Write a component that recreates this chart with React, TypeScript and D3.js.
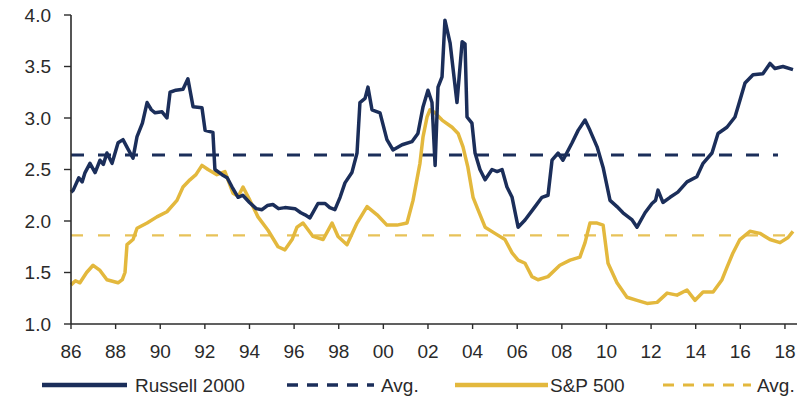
import React from "react";
import * as d3 from "d3";

const russell: [number, number][] = [
  [1986.0, 2.28], [1986.1, 2.3], [1986.35, 2.42], [1986.5, 2.38], [1986.63, 2.47], [1986.85, 2.56],
  [1987.08, 2.47], [1987.3, 2.59], [1987.45, 2.55], [1987.61, 2.66], [1987.84, 2.56], [1988.11, 2.76],
  [1988.33, 2.79], [1988.55, 2.7], [1988.78, 2.61], [1988.96, 2.82], [1989.2, 2.95], [1989.41, 3.15],
  [1989.6, 3.08], [1989.77, 3.05], [1990.08, 3.06], [1990.3, 3.0], [1990.44, 3.25], [1990.7, 3.27],
  [1991.02, 3.28], [1991.24, 3.38], [1991.47, 3.11], [1991.87, 3.1], [1992.01, 2.88], [1992.36, 2.86],
  [1992.45, 2.5], [1992.77, 2.45], [1993.0, 2.42], [1993.22, 2.33], [1993.49, 2.23], [1993.7, 2.25],
  [1994.0, 2.18], [1994.3, 2.12], [1994.56, 2.11], [1994.8, 2.15], [1995.05, 2.16], [1995.3, 2.12],
  [1995.59, 2.13], [1996.04, 2.12], [1996.3, 2.08], [1996.49, 2.06], [1996.71, 2.03], [1997.07, 2.17],
  [1997.39, 2.17], [1997.6, 2.13], [1997.83, 2.11], [1998.06, 2.23], [1998.28, 2.37], [1998.59, 2.47],
  [1998.82, 2.66], [1998.95, 3.15], [1999.18, 3.19], [1999.31, 3.3], [1999.49, 3.08], [1999.85, 3.05],
  [2000.16, 2.79], [2000.43, 2.69], [2000.84, 2.74], [2001.28, 2.77], [2001.55, 2.85], [2001.78, 3.11],
  [2002.0, 3.27], [2002.18, 3.15], [2002.32, 2.54], [2002.45, 3.3], [2002.63, 3.4], [2002.76, 3.95],
  [2002.99, 3.73], [2003.3, 3.15], [2003.53, 3.74], [2003.66, 3.72], [2003.75, 3.01], [2003.97, 2.95],
  [2004.11, 2.66], [2004.33, 2.5], [2004.56, 2.4], [2004.87, 2.5], [2005.1, 2.48], [2005.32, 2.5],
  [2005.54, 2.33], [2005.77, 2.23], [2006.04, 1.94], [2006.35, 2.01], [2006.8, 2.14], [2007.11, 2.23],
  [2007.38, 2.25], [2007.56, 2.59], [2007.83, 2.66], [2008.05, 2.59], [2008.46, 2.76], [2008.73, 2.88],
  [2009.04, 2.98], [2009.26, 2.88], [2009.58, 2.72], [2009.85, 2.52], [2010.16, 2.2], [2010.47, 2.14],
  [2010.74, 2.08], [2011.15, 2.01], [2011.37, 1.94], [2011.73, 2.08], [2012.04, 2.17], [2012.2, 2.2],
  [2012.31, 2.3], [2012.53, 2.18], [2012.85, 2.23], [2013.2, 2.28], [2013.61, 2.38], [2014.05, 2.43],
  [2014.33, 2.56], [2014.73, 2.66], [2015.0, 2.85], [2015.4, 2.91], [2015.76, 3.01], [2015.98, 3.17],
  [2016.21, 3.34], [2016.57, 3.42], [2017.01, 3.43], [2017.33, 3.53], [2017.55, 3.48], [2017.91, 3.5],
  [2018.36, 3.47],
];

const sp500: [number, number][] = [
  [1986.0, 1.38], [1986.2, 1.42], [1986.4, 1.4], [1986.7, 1.5], [1986.99, 1.57], [1987.3, 1.52],
  [1987.61, 1.43], [1988.11, 1.4], [1988.3, 1.43], [1988.42, 1.5], [1988.51, 1.77], [1988.78, 1.82],
  [1988.96, 1.93], [1989.41, 1.98], [1989.85, 2.04], [1990.3, 2.09], [1990.75, 2.2], [1991.02, 2.33],
  [1991.33, 2.4], [1991.6, 2.45], [1991.87, 2.54], [1992.14, 2.5], [1992.54, 2.45], [1992.9, 2.48],
  [1993.26, 2.27], [1993.5, 2.24], [1993.71, 2.33], [1994.02, 2.2], [1994.38, 2.04], [1994.83, 1.91],
  [1995.28, 1.75], [1995.59, 1.72], [1995.91, 1.82], [1996.13, 1.94], [1996.4, 1.98], [1996.85, 1.85],
  [1997.3, 1.82], [1997.7, 1.98], [1997.97, 1.85], [1998.37, 1.77], [1998.82, 1.98], [1999.27, 2.14],
  [1999.72, 2.06], [2000.16, 1.96], [2000.61, 1.96], [2001.06, 1.98], [2001.33, 2.2], [2001.64, 2.56],
  [2001.78, 2.82], [2001.96, 3.01], [2002.09, 3.08], [2002.32, 3.05], [2002.63, 2.98], [2003.08, 2.91],
  [2003.35, 2.85], [2003.57, 2.72], [2003.79, 2.52], [2004.02, 2.23], [2004.24, 2.11], [2004.56, 1.94],
  [2005.0, 1.88], [2005.45, 1.82], [2005.77, 1.69], [2006.04, 1.62], [2006.35, 1.59], [2006.66, 1.46],
  [2006.93, 1.43], [2007.38, 1.46], [2007.91, 1.57], [2008.37, 1.62], [2008.81, 1.65], [2009.04, 1.79],
  [2009.26, 1.98], [2009.58, 1.98], [2009.85, 1.96], [2010.07, 1.59], [2010.47, 1.4], [2010.92, 1.26],
  [2011.37, 1.23], [2011.82, 1.2], [2012.27, 1.21], [2012.72, 1.3], [2013.16, 1.28], [2013.61, 1.33],
  [2013.97, 1.23], [2014.33, 1.31], [2014.78, 1.31], [2015.18, 1.43], [2015.4, 1.55], [2015.67, 1.69],
  [2015.98, 1.82], [2016.43, 1.9], [2016.88, 1.88], [2017.33, 1.82], [2017.78, 1.79], [2018.14, 1.84],
  [2018.36, 1.9],
];

const russellAvg = 2.64;
const spAvg = 1.86;

const xTickYears = [1986, 1988, 1990, 1992, 1994, 1996, 1998, 2000, 2002, 2004, 2006, 2008, 2010, 2012, 2014, 2016, 2018];
const xTickLabels = ["86", "88", "90", "92", "94", "96", "98", "00", "02", "04", "06", "08", "10", "12", "14", "16", "18"];
const yTicks = [1.0, 1.5, 2.0, 2.5, 3.0, 3.5, 4.0];

const legendLabels = ["Russell 2000", "Avg.", "S&P 500", "Avg."];

const NAVY = "#1b2e5a";
const GOLD = "#e3b83d";
const AXIS = "#2b2b2b";
const TEXT = "#2a2a2a";
const FONT = "'Liberation Sans', Arial, sans-serif";

export default function App() {
  const width = 804;
  const height = 398;
  const x = d3.scaleLinear().domain([1986, 2018.54]).range([71, 797]);
  const y = d3.scaleLinear().domain([1, 4]).range([324, 15]);
  const line = d3
    .line<[number, number]>()
    .x((d) => x(d[0]))
    .y((d) => y(d[1]));

  const legendItems = [
    { x1: 42, x2: 127, tx: 135, color: NAVY, dash: null as string | null, w: 4.5 },
    { x1: 287, x2: 374, tx: 381, color: NAVY, dash: "11 9", w: 3.5 },
    { x1: 455, x2: 548, tx: 550, color: GOLD, dash: null, w: 4.5 },
    { x1: 663, x2: 751, tx: 757, color: GOLD, dash: "11 9", w: 3 },
  ];

  return (
    <svg
      width={width}
      height={height}
      style={{ position: "absolute", left: 0, top: 0, background: "#fff" }}
      fontFamily={FONT}
    >
      {/* average lines */}
      <line x1={x(1986)} x2={778} y1={y(russellAvg)} y2={y(russellAvg)} stroke={NAVY} strokeWidth={3} strokeDasharray="13 14" />
      <line x1={x(1986)} x2={797} y1={y(spAvg)} y2={y(spAvg)} stroke={GOLD} strokeWidth={2.2} strokeDasharray="12 15" opacity={0.85} />

      {/* series */}
      <path d={line(sp500) || ""} fill="none" stroke={GOLD} strokeWidth={3.5} strokeLinejoin="round" />
      <path d={line(russell) || ""} fill="none" stroke={NAVY} strokeWidth={3.5} strokeLinejoin="round" />

      {/* y axis */}
      <line x1={71} x2={71} y1={y(4)} y2={y(1)} stroke={AXIS} strokeWidth={1.6} />
      {yTicks.map((t) => (
        <g key={t}>
          <line x1={64} x2={71} y1={y(t)} y2={y(t)} stroke={AXIS} strokeWidth={1.4} />
          <text x={51} y={y(t)} dy="0.35em" textAnchor="end" fontSize={19} fill={TEXT}>
            {t.toFixed(1)}
          </text>
        </g>
      ))}

      {/* x axis */}
      <line x1={71} x2={797} y1={y(1)} y2={y(1)} stroke={AXIS} strokeWidth={1.6} />
      {xTickYears.map((yr, i) => (
        <g key={yr}>
          <line x1={x(yr)} x2={x(yr)} y1={y(1)} y2={y(1) + 5} stroke={AXIS} strokeWidth={1.4} />
          <text x={x(yr)} y={358} textAnchor="middle" fontSize={19} fill={TEXT}>
            {xTickLabels[i]}
          </text>
        </g>
      ))}

      {/* legend */}
      {legendItems.map((it, i) => (
        <g key={i}>
          <line
            x1={it.x1}
            x2={it.x2}
            y1={385}
            y2={385}
            stroke={it.color}
            strokeWidth={it.w}
            strokeDasharray={it.dash || undefined}
          />
          <text x={it.tx} y={392} fontSize={19} fill={TEXT}>
            {legendLabels[i]}
          </text>
        </g>
      ))}
    </svg>
  );
}
